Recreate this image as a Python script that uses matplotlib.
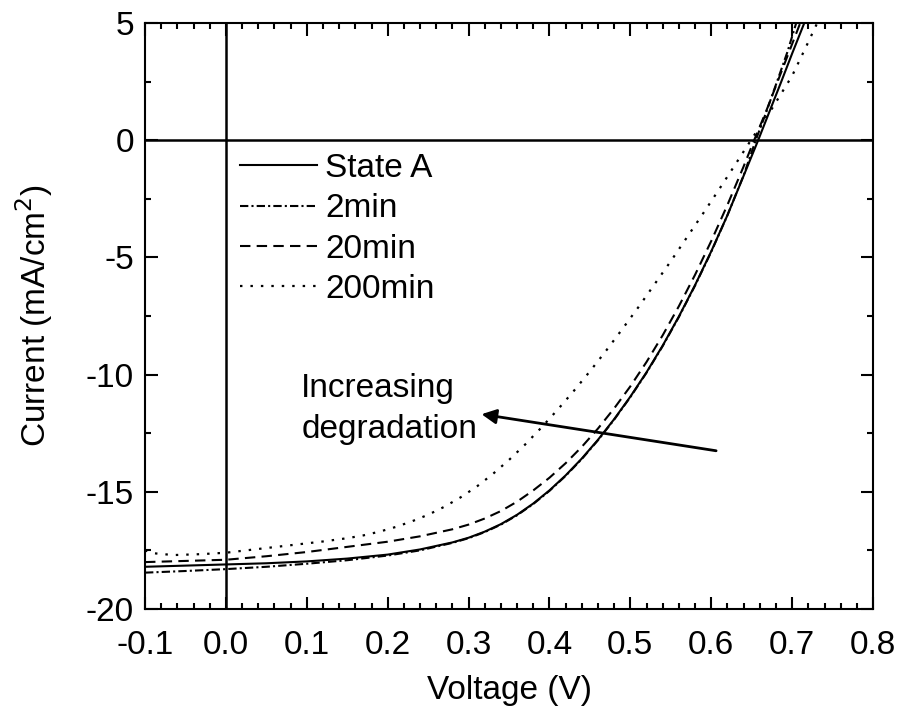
import numpy as np
import matplotlib
matplotlib.use("Agg")
import matplotlib.pyplot as plt
from matplotlib.ticker import MultipleLocator, FormatStrFormatter

plt.rcParams['font.family'] = ['Liberation Sans', 'DejaVu Sans']
plt.rcParams['axes.unicode_minus'] = False

# J-V curves (V in volts, J in mA/cm2)
v_state_a = [-0.1, -0.05, 0.0, 0.05, 0.1, 0.15, 0.2, 0.24, 0.28, 0.30, 0.32, 0.34, 0.36,
             0.38, 0.40, 0.42, 0.44, 0.46, 0.48, 0.50, 0.52, 0.54, 0.56, 0.58, 0.60,
             0.62, 0.64, 0.658, 0.67, 0.686, 0.70, 0.715]
j_state_a = [-18.2, -18.15, -18.1, -18.05, -17.97, -17.85, -17.68, -17.46, -17.16, -16.96,
             -16.70, -16.38, -15.98, -15.50, -14.94, -14.30, -13.58, -12.78, -11.90, -10.94,
             -9.90, -8.76, -7.52, -6.18, -4.74, -3.20, -1.52, 0.0, 1.05, 2.45, 3.7, 5.0]

v_2min = [-0.1, -0.05, 0.0, 0.05, 0.1, 0.15, 0.2, 0.24, 0.28, 0.30, 0.32, 0.34, 0.36,
          0.38, 0.40, 0.42, 0.44, 0.46, 0.48, 0.50, 0.52, 0.54, 0.56, 0.58, 0.60,
          0.62, 0.64, 0.655, 0.668, 0.681, 0.694, 0.705]
j_2min = [-18.45, -18.38, -18.3, -18.2, -18.07, -17.92, -17.72, -17.5, -17.18, -16.98,
          -16.72, -16.40, -16.00, -15.52, -14.96, -14.32, -13.60, -12.80, -11.92, -10.96,
          -9.92, -8.78, -7.54, -6.20, -4.76, -3.20, -1.50, 0.0, 1.2, 2.47, 3.75, 5.0]

v_20min = [-0.1, -0.05, 0.0, 0.05, 0.1, 0.15, 0.2, 0.24, 0.28, 0.30, 0.32, 0.34, 0.36,
           0.38, 0.40, 0.42, 0.44, 0.46, 0.48, 0.50, 0.52, 0.54, 0.56, 0.58, 0.60,
           0.62, 0.64, 0.653, 0.668, 0.682, 0.696, 0.71]
j_20min = [-18.0, -17.95, -17.9, -17.75, -17.57, -17.35, -17.13, -16.90, -16.60, -16.40,
           -16.14, -15.82, -15.42, -14.94, -14.40, -13.78, -13.08, -12.30, -11.44, -10.50,
           -9.46, -8.32, -7.08, -5.74, -4.30, -2.76, -1.12, 0.0, 1.25, 2.5, 3.75, 5.0]

v_200min = [-0.1, -0.09, -0.065, -0.03, 0.0, 0.03, 0.06, 0.09, 0.12, 0.15, 0.17, 0.19,
            0.21, 0.23, 0.25, 0.27, 0.29, 0.31, 0.33, 0.35, 0.37, 0.39, 0.41, 0.43,
            0.45, 0.47, 0.49, 0.51, 0.53, 0.55, 0.57, 0.59, 0.61, 0.63, 0.649,
            0.676, 0.70, 0.716, 0.731]
j_200min = [-17.5, -17.62, -17.7, -17.66, -17.6, -17.48, -17.36, -17.24, -17.12, -16.98,
            -16.86, -16.70, -16.50, -16.26, -15.98, -15.64, -15.24, -14.78, -14.24, -13.64,
            -12.98, -12.26, -11.50, -10.70, -9.86, -8.98, -8.06, -7.12, -6.14, -5.16,
            -4.14, -3.12, -2.08, -1.02, 0.0, 1.4, 2.75, 3.9, 5.0]

labels = ["State A", "2min", "20min", "200min"]

fs = 24
fig = plt.figure(figsize=(8.98, 7.13), dpi=100)
ax = fig.add_axes([0.1615, 0.1459, 0.8107, 0.8218])

ax.axhline(0, color='k', lw=1.8, zorder=1)
ax.axvline(0, color='k', lw=1.8, zorder=1)

lw = 1.5
ax.plot(v_state_a, j_state_a, color='k', lw=lw, ls='-', label=labels[0])
ax.plot(v_2min, j_2min, color='k', lw=lw, dashes=(4, 1.5, 1, 1.5), label=labels[1])
ax.plot(v_20min, j_20min, color='k', lw=lw, dashes=(5, 3), label=labels[2])
ax.plot(v_200min, j_200min, color='k', lw=1.6, dashes=(1.1, 3.6), label=labels[3])

ax.set_xlim(-0.1, 0.8)
ax.set_ylim(-20, 5)
ax.xaxis.set_major_locator(MultipleLocator(0.1))
ax.xaxis.set_minor_locator(MultipleLocator(0.02))
ax.yaxis.set_major_locator(MultipleLocator(5))
ax.yaxis.set_minor_locator(MultipleLocator(2.5))
ax.xaxis.set_major_formatter(FormatStrFormatter('%.1f'))
ax.yaxis.set_major_formatter(FormatStrFormatter('%d'))
ax.tick_params(which='both', direction='in', top=True, right=True, width=1.5)
ax.tick_params(which='major', length=9, labelsize=fs)
ax.tick_params(which='minor', length=4.5)
ax.tick_params(axis='x', which='major', pad=15)
ax.tick_params(axis='y', which='major', pad=8)
for s in ax.spines.values():
    s.set_linewidth(1.5)

ax.set_xlabel("Voltage (V)", fontsize=fs, labelpad=10)
ax.set_ylabel("Current (mA/cm$^2$)", fontsize=fs, labelpad=22)

leg = ax.legend(loc='upper left', bbox_to_anchor=(0.1305, 0.778), frameon=False,
                fontsize=fs, handlelength=2.3, handletextpad=0.25, labelspacing=0.28,
                borderpad=0, borderaxespad=0)

ax.annotate("", xy=(0.316, -11.69), xytext=(0.606, -13.25),
            arrowprops=dict(arrowstyle='-|>', color='k', lw=2, mutation_scale=22,
                            shrinkA=0, shrinkB=0))
ax.text(0.093, -11.45, "Increasing\ndegradation", fontsize=fs, ha='left', va='center',
        linespacing=1.42)

fig.savefig("out.png", dpi=100)
